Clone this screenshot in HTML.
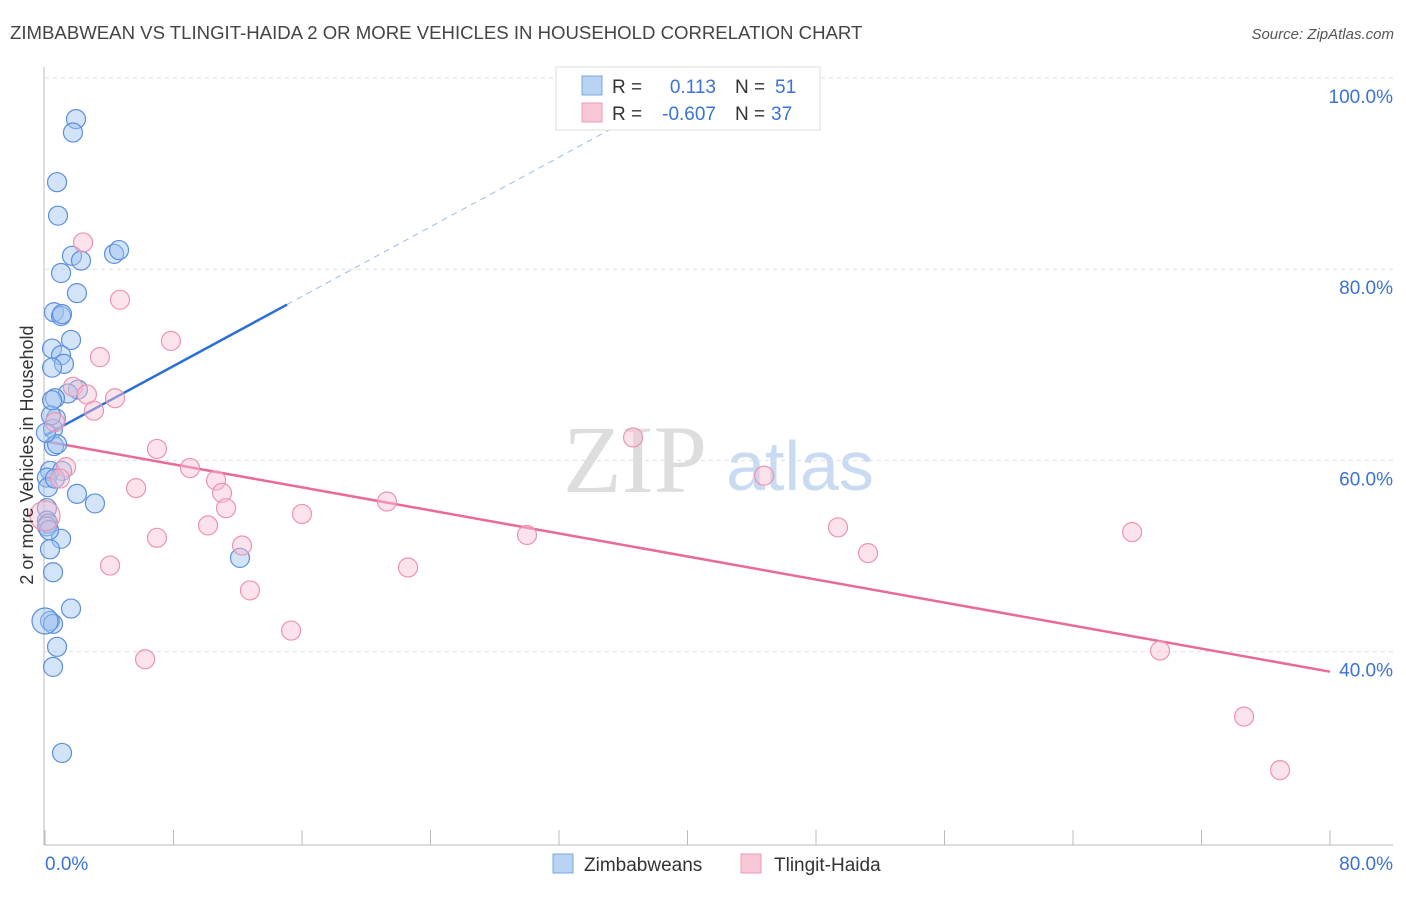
<!DOCTYPE html>
<html><head><meta charset="utf-8"><style>
body{margin:0;background:#fff;font-family:"Liberation Sans",sans-serif;}
svg text{font-family:"Liberation Sans",sans-serif;}
</style></head><body>
<svg id="c" width="1406" height="892" xmlns="http://www.w3.org/2000/svg">
<text x="10" y="39" font-size="18.6" fill="#444">ZIMBABWEAN VS TLINGIT-HAIDA 2 OR MORE VEHICLES IN HOUSEHOLD CORRELATION CHART</text>
<text x="1394" y="39" font-size="15" fill="#555" font-style="italic" text-anchor="end">Source: ZipAtlas.com</text>
<text x="635" y="492" font-size="96" fill="#ddd" text-anchor="middle" style="font-family:'Liberation Serif',serif">ZIP</text>
<text x="800" y="490" font-size="70" fill="#c9dbf3" text-anchor="middle">atlas</text>
<g id="grid"></g><g id="axes"></g><g id="lines"></g><g id="pts"></g>
<text transform="translate(33,455) rotate(-90)" font-size="18" fill="#333" text-anchor="middle">2 or more Vehicles in Household</text>
<g>
<rect x="556" y="67" width="264" height="63" fill="#fff" stroke="#ddd"/>
<rect x="582" y="76" width="20" height="19" fill="#b8d3f4" stroke="#7aa6e0"/>
<rect x="582" y="103" width="20" height="19" fill="#f9c8d6" stroke="#ec9ab3"/>
<text x="612" y="93" font-size="19" fill="#333">R =</text>
<text x="716" y="93" font-size="19" fill="#3a73d4" text-anchor="end">0.113</text>
<text x="735" y="93" font-size="19" fill="#333">N =</text>
<text x="775" y="93" font-size="19" fill="#3a73d4">51</text>
<text x="612" y="120" font-size="19" fill="#333">R =</text>
<text x="716" y="120" font-size="19" fill="#3a73d4" text-anchor="end">-0.607</text>
<text x="735" y="120" font-size="19" fill="#333">N =</text>
<text x="771" y="120" font-size="19" fill="#3a73d4">37</text>
</g>
<g>
<rect x="553" y="854" width="20" height="19" fill="#b8d3f4" stroke="#7aa6e0"/>
<text x="584" y="871" font-size="19" fill="#333">Zimbabweans</text>
<rect x="741" y="854" width="20" height="19" fill="#f9c8d6" stroke="#ec9ab3"/>
<text x="774" y="871" font-size="19" fill="#333">Tlingit-Haida</text>
</g>
</svg>
<script>
const blueX=[1.93,1.74,0.75,0.81,1.68,2.24,4.30,4.61,1.00,1.99,0.56,1.00,1.06,1.62,0.44,1.00,1.18,0.44,2.05,1.43,0.62,0.68,0.50,0.56,0.75,0.31,1.06,0.12,0.19,1.99,3.11,0.12,0.12,0.19,1.00,0.31,0.50,12.14,1.62,0.31,0.50,0.75,0.50,1.06,0.12,0.06,0.37,0.44,0,0.62,0.25];
const blueY=[95.7,94.3,89.1,85.6,81.4,80.9,81.6,82.0,79.6,77.5,75.5,75.1,75.3,72.6,71.7,71.0,70.1,69.7,67.4,67.0,66.5,64.4,63.3,61.5,61.7,58.9,58.9,58.2,57.2,56.5,55.5,55.0,53.7,53.4,51.8,50.7,48.3,49.8,44.5,43.2,42.9,40.5,38.4,29.4,53.1,62.9,64.7,66.3,43.2,58.1,52.7];
const pinkX=[2.37,4.67,7.84,3.42,1.74,2.61,4.36,3.05,0.62,6.97,36.61,9.03,1.31,0.93,10.65,11.02,5.67,44.77,11.27,21.29,16.0,10.15,6.97,12.27,30.01,49.37,67.68,51.24,4.05,22.60,12.76,15.32,6.23,69.42,74.65,76.89,0];
const pinkY=[82.8,76.8,72.5,70.8,67.7,66.9,66.5,65.2,64.0,61.2,62.4,59.2,59.3,58.1,57.9,56.6,57.1,58.4,55.0,55.7,54.4,53.2,51.9,51.1,52.2,53.0,52.5,50.3,49.0,48.8,46.4,42.2,39.2,40.1,33.2,27.6,54.2];
const blueTrend=[[0,62.6],[15.07,76.3],[40,99.0]];
const pinkTrend=[[0,62.0],[80,37.9]];
const yTicks=[100,80,60,40];
const xTicks=[0,8,16,24,32,40,48,56,64,72,80];
const X=v=>45+v*1285/80, Y=v=>78+(100-v)*9.56;
const NS='http://www.w3.org/2000/svg';
function mk(t,a,p){const e=document.createElementNS(NS,t);for(const k in a)e.setAttribute(k,a[k]);document.getElementById(p).appendChild(e);return e;}
yTicks.forEach(v=>{
 const g=mk('line',{x1:45,x2:1393,y1:Y(v),y2:Y(v),stroke:'#ddd','stroke-dasharray':'4,4'},'grid');
 
 
 const t=mk('text',{x:1393,y:Y(v)+25,'font-size':19,fill:'#3a73d4','text-anchor':'end'},'grid');
 t.textContent=v.toFixed(1)+'%';
 
 
});
const ax=mk('line',{x1:44,x2:44,y1:67,y2:845,stroke:'#bbb'},'axes');


const bx=mk('line',{x1:44,x2:1393,y1:845,y2:845,stroke:'#bbb'},'axes');


xTicks.forEach(v=>{
 const l=mk('line',{x1:X(v),x2:X(v),y1:830,y2:845,stroke:'#bbb'},'axes');
 
 
});
[[0,'start',45],[80,'end',1393]].forEach(([v,a,x])=>{
 const t=mk('text',{x:x,y:870,'font-size':19,fill:'#3a73d4','text-anchor':a},'axes');
 t.textContent=v.toFixed(1)+'%';
 
 
});
const b1=mk('line',{x1:X(blueTrend[0][0]),y1:Y(blueTrend[0][1]),x2:X(blueTrend[1][0]),y2:Y(blueTrend[1][1]),stroke:'#2a6fd6','stroke-width':2.5},'lines');


const b2=mk('line',{x1:X(blueTrend[1][0]),y1:Y(blueTrend[1][1]),x2:X(blueTrend[2][0]),y2:Y(blueTrend[2][1]),stroke:'#9bbbe6','stroke-width':1,'stroke-dasharray':'6,5'},'lines');


const p1=mk('line',{x1:X(pinkTrend[0][0]),y1:Y(pinkTrend[0][1]),x2:X(pinkTrend[1][0]),y2:Y(pinkTrend[1][1]),stroke:'#e86a95','stroke-width':2.5},'lines');


blueX.forEach((x,i)=>{
 const c=mk('circle',{cx:X(x),cy:Y(blueY[i]),r:(x===0?13:9.5),fill:'rgba(160,196,240,0.45)',stroke:'#5b8fdc','stroke-width':1.2},'pts');
 
 
});
pinkX.forEach((x,i)=>{
 const c=mk('circle',{cx:X(x),cy:Y(pinkY[i]),r:(x===0?15:9.5),fill:'rgba(248,190,208,0.45)',stroke:'#ec94b0','stroke-width':1.2},'pts');
 
 
});
</script>
</body></html>
